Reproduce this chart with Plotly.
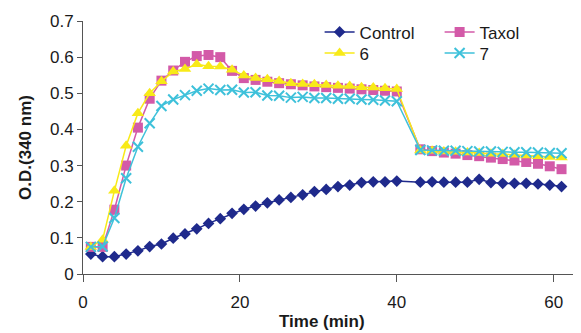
import plotly.graph_objects as go

# ---- data ----
time = [1, 2.5, 4, 5.5, 7, 8.5, 10, 11.5, 13, 14.5, 16, 17.5, 19, 20.5, 22, 23.5,
        25, 26.5, 28, 29.5, 31, 32.5, 34, 35.5, 37, 38.5, 40,
        43, 44.5, 46, 47.5, 49, 50.5, 52, 53.5, 55, 56.5, 58, 59.5, 61]

control = [0.055, 0.048, 0.048, 0.055, 0.064, 0.076, 0.083, 0.099, 0.111, 0.125,
           0.140, 0.153, 0.168, 0.179, 0.188, 0.197, 0.205, 0.212, 0.219, 0.228,
           0.234, 0.242, 0.246, 0.253, 0.255, 0.255, 0.257,
           0.254, 0.255, 0.254, 0.254, 0.254, 0.262, 0.253, 0.251, 0.251, 0.251,
           0.249, 0.246, 0.242]

taxol = [0.075, 0.075, 0.178, 0.300, 0.405, 0.485, 0.535, 0.563, 0.587, 0.603,
         0.606, 0.600, 0.562, 0.542, 0.537, 0.532, 0.528, 0.525, 0.522, 0.519,
         0.517, 0.515, 0.513, 0.511, 0.509, 0.507, 0.505,
         0.345, 0.340, 0.336, 0.333, 0.329, 0.326, 0.322, 0.318, 0.314, 0.310,
         0.305, 0.298, 0.290]

cmpd6 = [0.075, 0.095, 0.230, 0.355, 0.445, 0.500, 0.533, 0.560, 0.567, 0.580,
         0.575, 0.574, 0.565, 0.549, 0.542, 0.539, 0.534, 0.528, 0.526, 0.525,
         0.523, 0.521, 0.520, 0.517, 0.516, 0.514, 0.512,
         0.342, 0.341, 0.339, 0.338, 0.336, 0.335, 0.333, 0.332, 0.330, 0.328,
         0.326, 0.324, 0.322]

cmpd7 = [0.075, 0.076, 0.155, 0.265, 0.352, 0.417, 0.465, 0.483, 0.495, 0.507,
         0.513, 0.509, 0.510, 0.502, 0.503, 0.494, 0.493, 0.488, 0.490, 0.487,
         0.487, 0.485, 0.485, 0.483, 0.482, 0.480, 0.478,
         0.343, 0.342, 0.341, 0.341, 0.340, 0.339, 0.339, 0.338, 0.337, 0.337,
         0.336, 0.335, 0.334]

series_names = ["Control", "Taxol", "6", "7"]
x_ticks = [0, 20, 40, 60]
y_ticks = [0, 0.1, 0.2, 0.3, 0.4, 0.5, 0.6, 0.7]
x_title = "Time (min)"
y_title = "O.D.(340 nm)"

# ---- figure ----
# The page body has an 8px default margin, so the figure is 8px smaller
# on each axis to fill the 581x333 window exactly.
FONT = "Liberation Sans, Arial, sans-serif"
TXT = "#1a1a1a"
styles = [
    dict(color="#1F2A8C", symbol="diamond", size=9, legend="legend"),
    dict(color="#D35AA8", symbol="square", size=10, legend="legend"),
    dict(color="#F8EA18", symbol="triangle-up", size=11, legend="legend2"),
    dict(color="#3EC1DA", symbol="x-thin", size=10, legend="legend2"),
]
values = [control, taxol, cmpd6, cmpd7]

fig = go.Figure()
for name, vals, st in zip(series_names, values, styles):
    if st["symbol"] == "x-thin":
        marker = dict(symbol="x-thin", size=st["size"], color=st["color"],
                      line=dict(width=2, color=st["color"]))
    else:
        marker = dict(symbol=st["symbol"], size=st["size"], color=st["color"],
                      line=dict(width=0))
    fig.add_trace(go.Scatter(x=time, y=vals, name=name, mode="lines+markers",
                             line=dict(color=st["color"], width=1.5),
                             marker=marker, legend=st["legend"]))

axis_common = dict(showgrid=False, zeroline=False, showline=True, automargin=False,
                   linecolor="#555555", linewidth=1, ticks="outside",
                   tickcolor="#555555", tickfont=dict(family=FONT, size=17, color=TXT))

legend_common = dict(orientation="h", xanchor="left", yanchor="middle",
                     entrywidth=75, entrywidthmode="pixels",
                     font=dict(family=FONT, size=17, color=TXT),
                     bgcolor="rgba(0,0,0,0)")

fig.update_layout(
    width=573, height=325,
    margin=dict(l=75, r=3, t=13, b=59, autoexpand=False),
    paper_bgcolor="white", plot_bgcolor="white",
    font=dict(family=FONT, color=TXT),
    showlegend=True,
    legend=dict(x=0.478, y=0.955, **legend_common),
    legend2=dict(x=0.478, y=0.872, **legend_common),
    xaxis=dict(range=[0, 63.1], tickvals=x_ticks, ticklen=7, ticklabelstandoff=6,
               **axis_common),
    yaxis=dict(range=[0, 0.7], tickvals=y_ticks, ticklen=5,
               title=dict(text="<b>" + y_title + "</b>", standoff=14,
                          font=dict(family=FONT, size=17, color=TXT)),
               **axis_common),
    annotations=[dict(text="<b>" + x_title + "</b>", xref="paper", yref="paper",
                      x=0.482, y=-0.186, xanchor="center", yanchor="middle",
                      showarrow=False, font=dict(family=FONT, size=17, color=TXT))],
)

fig.write_html("out.html")
